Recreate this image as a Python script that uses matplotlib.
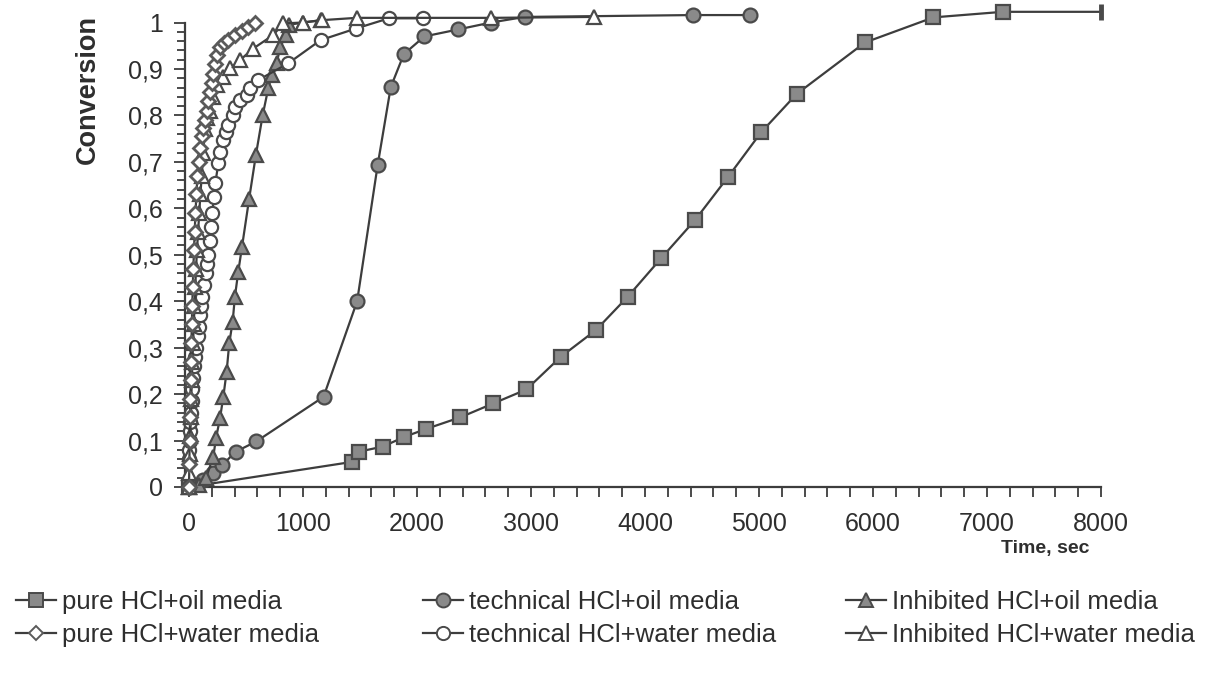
import matplotlib
matplotlib.use("Agg")
import matplotlib.pyplot as plt
from matplotlib.ticker import MultipleLocator, FuncFormatter
from matplotlib.lines import Line2D

plt.rcParams['font.family'] = ['Liberation Sans', 'DejaVu Sans']

# ---- data: time (sec) and conversion for each medium ----
pure_oil_t = [0, 1430, 1490, 1700, 1890, 2080, 2380, 2670, 2960, 3260, 3570, 3850,
              4140, 4440, 4730, 5020, 5330, 5930, 6530, 7140, 8000]
pure_oil_c = [0, 0.054, 0.076, 0.087, 0.108, 0.125, 0.15, 0.18, 0.21, 0.28, 0.338, 0.41,
              0.492, 0.575, 0.668, 0.764, 0.846, 0.957, 1.011, 1.023, 1.023]

tech_oil_t = [0, 120, 210, 290, 410, 590, 1180, 1475, 1655, 1770, 1885, 2065, 2360,
              2650, 2945, 4420, 4920]
tech_oil_c = [0, 0.015, 0.03, 0.047, 0.076, 0.098, 0.194, 0.40, 0.693, 0.861, 0.932,
              0.97, 0.985, 1.0, 1.012, 1.016, 1.016]

inhib_oil_t = [0, 90, 150, 213, 237, 272, 301, 330, 353, 383, 403, 432, 465, 528, 587,
               646, 695, 725, 770, 800, 855, 880, 1000, 1160]
inhib_oil_c = [0, 0.005, 0.02, 0.065, 0.105, 0.148, 0.194, 0.248, 0.309, 0.356, 0.41,
               0.463, 0.517, 0.621, 0.715, 0.80, 0.858, 0.887, 0.912, 0.948, 0.973,
               0.995, 1.0, 1.005]

pure_water_t = [0, 3, 6, 9, 12, 15, 18, 21, 25, 29, 33, 38, 44, 50, 57, 65, 74, 84, 95,
                110, 125, 140, 155, 169, 184, 199, 214, 228, 250, 272, 305, 344, 403,
                462, 520, 578]
pure_water_c = [0, 0.05, 0.1, 0.15, 0.19, 0.23, 0.27, 0.31, 0.35, 0.39, 0.43, 0.47, 0.51,
                0.55, 0.59, 0.63, 0.67, 0.70, 0.73, 0.755, 0.772, 0.79, 0.81, 0.83,
                0.85, 0.87, 0.89, 0.91, 0.93, 0.948, 0.955, 0.962, 0.973, 0.982, 0.99,
                0.998]

tech_water_t = [0, 2, 4, 6, 9, 13, 18, 24, 30, 38, 47, 56, 65, 75, 85, 95, 105, 118,
                132, 145, 158, 170, 180, 192, 205, 218, 232, 257, 272, 295, 324, 344,
                383, 403, 447, 506, 535, 607, 870, 1154, 1464, 1753, 2054]
tech_water_c = [0, 0.06, 0.08, 0.10, 0.12, 0.14, 0.16, 0.185, 0.21, 0.235, 0.26, 0.28,
                0.30, 0.325, 0.345, 0.37, 0.39, 0.41, 0.435, 0.46, 0.48, 0.50, 0.53,
                0.56, 0.59, 0.625, 0.655, 0.697, 0.722, 0.747, 0.765, 0.779, 0.801,
                0.819, 0.833, 0.844, 0.858, 0.876, 0.912, 0.962, 0.987, 1.009, 1.009]

inhib_water_t = [0, 4, 8, 12, 16, 20, 25, 30, 36, 42, 48, 55, 62, 70, 80, 90, 100, 112,
                 125, 140, 162, 184, 213, 243, 300, 359, 447, 564, 739, 827, 1002, 1163,
                 1470, 2650, 3550]
inhib_water_c = [0, 0.03, 0.07, 0.11, 0.15, 0.19, 0.23, 0.27, 0.31, 0.35, 0.39, 0.43,
                 0.47, 0.51, 0.55, 0.59, 0.63, 0.67, 0.72, 0.77, 0.795, 0.81, 0.84,
                 0.865, 0.883, 0.901, 0.919, 0.944, 0.973, 0.998, 1.0, 1.005, 1.01,
                 1.01, 1.012]

labels = ["pure HCl+oil media", "pure HCl+water media",
          "technical HCl+oil media", "technical HCl+water media",
          "Inhibited HCl+oil media", "Inhibited HCl+water media"]
x_ticks = [0, 1000, 2000, 3000, 4000, 5000, 6000, 7000, 8000]

# ---- styling ----
LINE = '#3d3d3d'
FILL = '#8a8a8a'
EDGE = '#4a4a4a'
TEXT = '#2e2e2e'

styles = {
    "pure_oil":    dict(marker='s', ms=10.0, mfc=FILL, mec=EDGE),
    "tech_oil":    dict(marker='o', ms=10.0, mfc=FILL, mec=EDGE),
    "inhib_oil":   dict(marker='^', ms=10.0, mfc=FILL, mec=EDGE),
    "pure_water":  dict(marker='D', ms=7.5, mfc='white', mec='#5a5a5a'),
    "tech_water":  dict(marker='o', ms=9.5, mfc='white', mec=EDGE),
    "inhib_water": dict(marker='^', ms=10.0, mfc='white', mec=EDGE),
}
common = dict(color=LINE, lw=1.6, mew=1.6, clip_on=False)

W, H = 1219, 686
fig = plt.figure(figsize=(W / 100, H / 100), dpi=100)
ax = fig.add_axes([185 / W, 1 - 487 / H, 916 / W, 464.5 / H])
ax.set_xlim(-35, 8000)
ax.set_ylim(0, 1)

# pure HCl + oil: last reading ends on the axis limit, drawn as a bar
n = len(pure_oil_t)
ax.plot(pure_oil_t, pure_oil_c, markevery=list(range(n - 1)), zorder=3,
        **styles["pure_oil"], **common)
ax.plot(pure_oil_t[-1:], pure_oil_c[-1:], ls='none', marker='|', ms=11, mew=3.5,
        color=EDGE, clip_on=False, zorder=3)

ax.plot(tech_oil_t, tech_oil_c, zorder=3, **styles["tech_oil"], **common)
ax.plot(inhib_oil_t, inhib_oil_c, zorder=4, **styles["inhib_oil"], **common)
ax.plot(tech_water_t, tech_water_c, zorder=5, **styles["tech_water"], **common)
ax.plot(inhib_water_t, inhib_water_c, zorder=6, **styles["inhib_water"], **common)
ax.plot(pure_water_t, pure_water_c, zorder=7, **styles["pure_water"],
        **{**common, 'mew': 2.0})

# ---- axes ----
for s in ('top', 'right'):
    ax.spines[s].set_visible(False)
for s in ('left', 'bottom'):
    ax.spines[s].set_color(LINE)
    ax.spines[s].set_linewidth(1.6)

ax.set_xticks(x_ticks)
ax.xaxis.set_minor_locator(MultipleLocator(200))
ax.yaxis.set_major_locator(MultipleLocator(0.1))
ax.yaxis.set_minor_locator(MultipleLocator(0.02))


def yfmt(v, pos):
    if abs(v) < 1e-9:
        return "0"
    if abs(v - 1) < 1e-9:
        return "1"
    return f"{v:.1f}".replace('.', ',')


ax.yaxis.set_major_formatter(FuncFormatter(yfmt))
ax.tick_params(axis='both', which='both', direction='out', color=LINE, width=1.3,
               labelcolor=TEXT, labelsize=18)
ax.tick_params(axis='x', which='major', length=7, pad=11)
ax.tick_params(axis='x', which='minor', length=7)
ax.tick_params(axis='y', which='major', length=8, pad=8)
ax.tick_params(axis='y', which='minor', length=6)

fig.text(88 / W, 1 - 90 / H, "Conversion", rotation=90, ha='center', va='center',
         fontsize=19.5, fontweight='bold', color=TEXT)
fig.text(1045 / W, 1 - 549 / H, "Time, sec", ha='center', va='center',
         fontsize=14, fontweight='bold', color=TEXT)

# ---- legend: three columns of two entries ----
def handle(key):
    return Line2D([], [], **styles[key], color=LINE, lw=1.6, mew=1.4)


columns = [
    (62, [("pure_oil", labels[0]), ("pure_water", labels[1])]),
    (469, [("tech_oil", labels[2]), ("tech_water", labels[3])]),
    (892, [("inhib_oil", labels[4]), ("inhib_water", labels[5])]),
]
for x_text, entries in columns:
    fig.legend([handle(k) for k, _ in entries], [t for _, t in entries],
               loc='upper left', bbox_to_anchor=((x_text - 46) / W, 1 - 590 / H),
               frameon=False, fontsize=18.5, handlelength=1.55, handletextpad=0.25,
               labelspacing=0.34, borderpad=0, borderaxespad=0, labelcolor=TEXT)

fig.savefig("out.png", dpi=100, facecolor='white')
